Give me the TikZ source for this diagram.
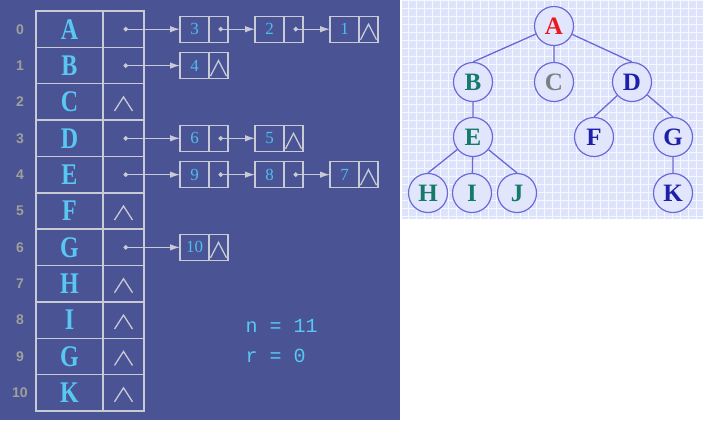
\documentclass[tikz,border=0pt]{standalone}
\usepackage{fontspec}
\setmainfont{Liberation Serif}
\newfontfamily\cellfont[FakeStretch=0.8]{Liberation Serif}
\newfontfamily\idxfont{Liberation Sans}
\newfontfamily\infofont{Liberation Mono}
\usetikzlibrary{arrows.meta,positioning}

\definecolor{panel}{RGB}{74,83,148}
\definecolor{rule}{RGB}{200,202,214}
\definecolor{cyantxt}{RGB}{88,200,242}
\definecolor{numtxt}{RGB}{78,188,240}
\definecolor{idxgray}{RGB}{160,160,155}
\definecolor{treebg}{RGB}{222,227,252}
\definecolor{treegrid}{RGB}{246,247,255}
\definecolor{disc}{RGB}{226,230,253}
\definecolor{ring}{RGB}{105,105,215}
\definecolor{redtxt}{RGB}{235,25,30}
\definecolor{tealtxt}{RGB}{20,122,105}
\definecolor{graytxt}{RGB}{120,128,128}
\definecolor{bluetxt}{RGB}{30,32,170}

% null pointer inside a list node
\newcommand\nilptr[1]{\draw[nilline] ([shift={(1.5pt,2.5pt)}]#1.south west) -- ([shift={(0pt,-8pt)}]#1.north) -- ([shift={(-1.5pt,2.5pt)}]#1.south east);}

\begin{document}
\begin{tikzpicture}[x=1pt,y=-1pt,
  cell/.style={draw=rule,line width=1.5pt,minimum height=36.36pt,inner sep=0pt,outer sep=0pt},
  letter/.style={cell,minimum width=67pt,text=cyantxt,font=\cellfont\bfseries\fontsize{30}{30}\selectfont},
  ptr/.style={cell,minimum width=41pt},
  idx/.style={text=idxgray,font=\idxfont\bfseries\fontsize{14}{14}\selectfont},
  datbox/.style={draw=rule,line width=1.1pt,minimum width=29pt,minimum height=26pt,inner sep=0pt,outer sep=0pt,text=numtxt,font=\fontsize{17}{17}\selectfont},
  nxtbox/.style={draw=rule,line width=1.1pt,minimum width=19pt,minimum height=26pt,inner sep=0pt,outer sep=0pt},
  link/.style={draw=rule,line width=1.1pt,{Circle[length=4.5pt]}-{Latex[length=10pt,width=6.5pt]}},
  nilline/.style={draw=rule,line width=1.3pt},
  vert/.style={circle,draw=ring,fill=disc,line width=1.2pt,minimum size=39pt,inner sep=0pt,font=\bfseries\fontsize{25}{25}\selectfont},
  tedge/.style={draw=ring,line width=1.3pt},
  info/.style={anchor=west,text=cyantxt,font=\infofont\fontsize{20}{20}\selectfont},
  nullmark/.pic={\draw[nilline] (-9,9) -- (0,-5) -- (9,9);}]

  \useasboundingbox (0,0) rectangle (703,424);
  \fill[panel] (0,0) rectangle (400,420);
  \fill[treebg] (402,0) rectangle (703,219);
  \draw[treegrid,line width=1pt,step=8pt] (402,219) grid (703,0);

  % adjacency table
  \foreach \lt [count=\i from 0] in {A,B,C,D,E,F,G,H,I,G,K} {
    \node[letter] (L\i) at (69.5,{29.2+36.36*\i}) {\lt};
    \node[ptr, right=0pt of L\i] (P\i) {};
    \node[idx] (N\i) at (20,{29.2+36.36*\i}) {\i};
  }
  \foreach \r in {2,5,7,8,9,10}
    \pic at (P\r) {nullmark};

  % child lists
  \node[datbox, right=36pt of P0] (v3) {3};
  \node[nxtbox, right=0pt of v3]  (v3p) {};
  \node[datbox, right=27pt of v3p] (v2) {2};
  \node[nxtbox, right=0pt of v2]  (v2p) {};
  \node[datbox, right=27pt of v2p] (v1) {1};
  \node[nxtbox, right=0pt of v1]  (v1p) {};

  \node[datbox, right=36pt of P1] (v4) {4};
  \node[nxtbox, right=0pt of v4]  (v4p) {};

  \node[datbox, right=36pt of P3] (v6) {6};
  \node[nxtbox, right=0pt of v6]  (v6p) {};
  \node[datbox, right=27pt of v6p] (v5) {5};
  \node[nxtbox, right=0pt of v5]  (v5p) {};

  \node[datbox, right=36pt of P4] (v9) {9};
  \node[nxtbox, right=0pt of v9]  (v9p) {};
  \node[datbox, right=27pt of v9p] (v8) {8};
  \node[nxtbox, right=0pt of v8]  (v8p) {};
  \node[datbox, right=27pt of v8p] (v7) {7};
  \node[nxtbox, right=0pt of v7]  (v7p) {};

  \node[datbox, right=36pt of P6] (v10) {10};
  \node[nxtbox, right=0pt of v10] (v10p) {};

  \draw[link] (P0.center) -- (v3);
  \draw[link] (v3p.center) -- (v2);
  \draw[link] (v2p.center) -- (v1);
  \draw[link] (P1.center) -- (v4);
  \draw[link] (P3.center) -- (v6);
  \draw[link] (v6p.center) -- (v5);
  \draw[link] (P4.center) -- (v9);
  \draw[link] (v9p.center) -- (v8);
  \draw[link] (v8p.center) -- (v7);
  \draw[link] (P6.center) -- (v10);

  \nilptr{v1p}
  \nilptr{v4p}
  \nilptr{v5p}
  \nilptr{v7p}
  \nilptr{v10p}

  \node[info] (nval) at (242,326) {n = 11};
  \node[info] (rval) at (242,356) {r = 0};

  % the tree
  \node[vert,text=redtxt]  (A) at (554,26)  {A};
  \node[vert,text=tealtxt] (B) at (473,82)  {B};
  \node[vert,text=graytxt] (C) at (554,82)  {C};
  \node[vert,text=bluetxt] (D) at (632,82)  {D};
  \node[vert,text=tealtxt] (E) at (473,137) {E};
  \node[vert,text=bluetxt] (F) at (594,137) {F};
  \node[vert,text=bluetxt] (G) at (673,137) {G};
  \node[vert,text=tealtxt] (H) at (428,193) {H};
  \node[vert,text=tealtxt] (I) at (472,193) {I};
  \node[vert,text=tealtxt] (J) at (517,193) {J};
  \node[vert,text=bluetxt] (K) at (673,193) {K};

  \draw[tedge] (A) -- (B.north)  (A) -- (C)  (A) -- (D.north)
               (B) -- (E)
               (D) -- (F.north)  (D) -- (G.north)
               (E) -- (H.north)  (E) -- (I)  (E) -- (J.north)
               (G) -- (K);
\end{tikzpicture}
\end{document}
